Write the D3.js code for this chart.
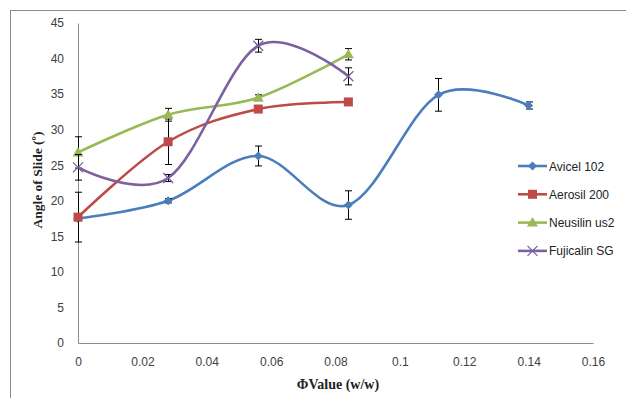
<!DOCTYPE html>
<html>
<head>
<meta charset="utf-8">
<script src="https://cdn.jsdelivr.net/npm/d3@7"></script>
<style>
  body { margin: 0; background: #fff; }
  svg text { font-family: "Liberation Sans", Arial, sans-serif; }
</style>
</head>
<body>
<div id="chart"></div>
<script>
// ---- Data
const xTicks = [0, 0.02, 0.04, 0.06, 0.08, 0.1, 0.12, 0.14, 0.16];
const yTicks = [0, 5, 10, 15, 20, 25, 30, 35, 40, 45];

const avicelX   = [0, 0.028, 0.056, 0.084, 0.112, 0.14];
const avicelY   = [17.5, 20.0, 26.3, 19.4, 34.9, 33.4];
const avicelErr = [0.3, 0.3, 1.4, 2.0, 2.3, 0.5];

const aerosilX   = [0, 0.028, 0.056, 0.084];
const aerosilY   = [17.7, 28.3, 32.9, 33.9];
const aerosilErr = [3.5, 3.2, 0.3, 0.3];

const neusilinX   = [0, 0.028, 0.056, 0.084];
const neusilinY   = [26.8, 32.1, 34.5, 40.6];
const neusilinErr = [2.2, 0.9, 0.4, 0.8];

const fujicalinX   = [0, 0.028, 0.056, 0.084];
const fujicalinY   = [24.7, 23.2, 41.8, 37.5];
const fujicalinErr = [1.8, 0.5, 0.9, 1.2];

const series = [
  { name: 'Avicel 102',   color: '#4A7EBB', marker: 'diamond',  xs: avicelX,    ys: avicelY,    err: avicelErr },
  { name: 'Aerosil 200',  color: '#BE4B48', marker: 'square',   xs: aerosilX,   ys: aerosilY,   err: aerosilErr },
  { name: 'Neusilin us2', color: '#98B954', marker: 'triangle', xs: neusilinX,  ys: neusilinY,  err: neusilinErr },
  { name: 'Fujicalin SG', color: '#7D60A0', marker: 'cross',    xs: fujicalinX, ys: fujicalinY, err: fujicalinErr }
];

const W = 626, H = 398;
const margin = { left: 78, right: 33, top: 23, bottom: 55 };

const svg = d3.select('#chart').append('svg')
  .attr('width', W).attr('height', H);

// ---- Outer chart border
svg.append('rect')
  .attr('x', 10.5).attr('y', 10.5)
  .attr('width', 630).attr('height', 400)
  .attr('fill', 'none').attr('stroke', '#8c8c8c').attr('stroke-width', 1);

const mapX = d3.scaleLinear().domain([0, 0.16]).range([margin.left, W - margin.right]);
const mapY = d3.scaleLinear().domain([0, 45]).range([H - margin.bottom, margin.top]);

// ---- Axes
const xAxis = svg.append('g')
  .attr('transform', `translate(0, ${mapY(0)})`)
  .call(d3.axisBottom(mapX).tickValues(xTicks).tickSize(0).tickPadding(14)
    .tickFormat(d => d === 0 ? '0' : String(+d.toFixed(2))));
xAxis.select('.domain').attr('stroke', '#8c8c8c');
xAxis.selectAll('.tick text').attr('font-size', 12).attr('fill', '#404040')
  .style('font-family', '"Liberation Sans", Arial, sans-serif');

const yAxis = svg.append('g')
  .attr('transform', `translate(${margin.left}, 0)`)
  .call(d3.axisLeft(mapY).tickValues(yTicks).tickSize(0).tickPadding(14));
yAxis.select('.domain').attr('stroke', '#8c8c8c');
yAxis.selectAll('.tick text').attr('font-size', 12).attr('fill', '#404040')
  .style('font-family', '"Liberation Sans", Arial, sans-serif');

// ---- Axis titles
svg.append('text')
  .attr('x', 338).attr('y', 389)
  .attr('text-anchor', 'middle')
  .style('font-family', '"Liberation Serif", "Times New Roman", serif')
  .attr('font-weight', 'bold').attr('font-size', 14).attr('fill', '#222')
  .text('ΦValue (w/w)');

svg.append('text')
  .attr('transform', `translate(42, 180) rotate(-90)`)
  .attr('text-anchor', 'middle')
  .style('font-family', '"Liberation Serif", "Times New Roman", serif')
  .attr('font-weight', 'bold').attr('font-size', 13.5).attr('fill', '#222')
  .text('Angle of Slide (º)');

// ---- Markers
function drawMarker(g, type, color, cx, cy) {
  if (type === 'diamond') {
    g.append('path').attr('d', `M${cx},${cy - 4.5}L${cx + 4.5},${cy}L${cx},${cy + 4.5}L${cx - 4.5},${cy}Z`)
      .attr('fill', color);
  } else if (type === 'square') {
    g.append('rect').attr('x', cx - 4.5).attr('y', cy - 4.5).attr('width', 9).attr('height', 9)
      .attr('fill', color);
  } else if (type === 'triangle') {
    g.append('path').attr('d', `M${cx},${cy - 5.5}L${cx + 5.5},${cy + 4}L${cx - 5.5},${cy + 4}Z`)
      .attr('fill', color);
  } else {
    g.append('path').attr('d', `M${cx - 5},${cy - 5}L${cx + 5},${cy + 5}M${cx - 5},${cy + 5}L${cx + 5},${cy - 5}`)
      .attr('stroke', color).attr('stroke-width', 1.3).attr('fill', 'none');
  }
}

const line = d3.line().curve(d3.curveCardinal.tension(0));

series.forEach(s => {
  const g = svg.append('g');
  const pts = s.xs.map((x, i) => [mapX(x), mapY(s.ys[i])]);
  g.append('path')
    .attr('d', line(pts))
    .attr('fill', 'none').attr('stroke', s.color).attr('stroke-width', 2.6);

  // error bars
  s.xs.forEach((x, i) => {
    const cx = Math.round(mapX(x)) + 0.5;
    const y1 = mapY(s.ys[i] + s.err[i]), y2 = mapY(s.ys[i] - s.err[i]);
    const eg = g.append('g').attr('stroke', '#000').attr('stroke-width', 1);
    eg.append('line').attr('x1', cx).attr('x2', cx).attr('y1', y1).attr('y2', y2);
    eg.append('line').attr('x1', cx - 3.5).attr('x2', cx + 3.5).attr('y1', y1).attr('y2', y1);
    eg.append('line').attr('x1', cx - 3.5).attr('x2', cx + 3.5).attr('y1', y2).attr('y2', y2);
  });

  pts.forEach(p => drawMarker(g, s.marker, s.color, p[0], p[1]));
});

// ---- Legend
const legend = svg.append('g');
series.forEach((s, i) => {
  const y = 166 + i * 28.3;
  legend.append('line')
    .attr('x1', 518).attr('x2', 547).attr('y1', y).attr('y2', y)
    .attr('stroke', s.color).attr('stroke-width', 2.6);
  drawMarker(legend, s.marker, s.color, 532.5, y);
  legend.append('text')
    .attr('x', 549).attr('y', y + 4.5)
    .attr('font-size', 12).attr('fill', '#222')
    .text(s.name);
});
</script>
</body>
</html>
